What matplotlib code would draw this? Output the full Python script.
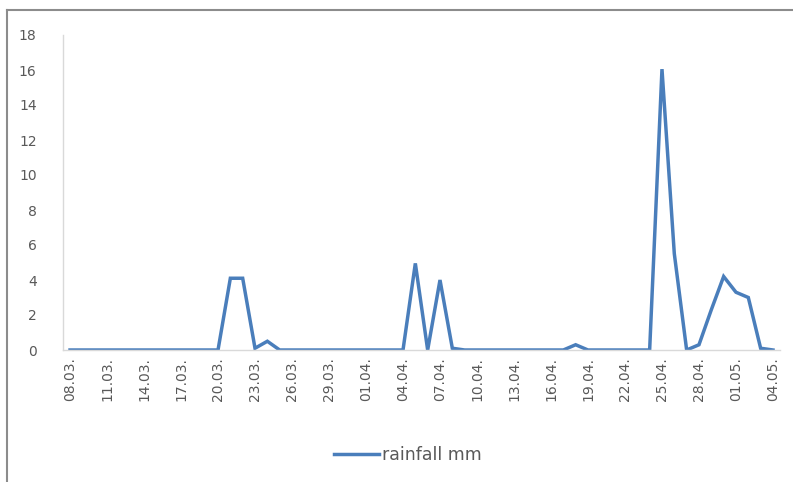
import matplotlib
matplotlib.use("Agg")
import matplotlib.pyplot as plt
from matplotlib.lines import Line2D
import datetime as dt

start = dt.date(2000, 3, 8)
n_days = 58
dates = [start + dt.timedelta(days=i) for i in range(n_days)]
date_labels = [d.strftime("%d.%m.") for d in dates]

rainfall = [0, 0, 0, 0, 0, 0, 0, 0, 0, 0, 0, 0, 0,      # 08.03-20.03
            4.1, 4.1, 0.1, 0.5, 0, 0, 0, 0, 0, 0, 0, 0, 0, 0,  # 21.03-03.04
            0, 4.95, 0, 4.0, 0.1, 0, 0, 0, 0, 0, 0, 0, 0, 0,    # 04.04-17.04
            0.3, 0, 0, 0, 0, 0, 0, 16.05, 5.5, 0, 0.3, 2.3,     # 18.04-29.04
            4.2, 3.3, 3.0, 0.1, 0]                               # 30.04-04.05

series_name = "rainfall mm"
yticks = [0, 2, 4, 6, 8, 10, 12, 14, 16, 18]

plt.rcParams['font.family'] = ['DejaVu Sans']
text_col = "#595959"
line_col = "#4A7EBB"

fig = plt.figure(figsize=(7.93, 4.82), dpi=100)
W, H = 793, 482
ax = fig.add_axes([63 / W, 1 - 350 / H, (780 - 63) / W, (350 - 35) / H])

x = list(range(n_days))
ax.plot(x, rainfall, color=line_col, lw=2.5, solid_joinstyle='miter', label=series_name)

ax.set_xlim(-0.57, 57.57)
ax.set_ylim(0, 18)
ax.set_yticks(yticks)
ax.set_yticklabels([str(v) for v in yticks])
ax.set_xticks(x[::3])
ax.set_xticklabels(date_labels[::3], rotation=90)

for s in ['top', 'right']:
    ax.spines[s].set_visible(False)
for s in ['left', 'bottom']:
    ax.spines[s].set_color("#D9D9D9")
    ax.spines[s].set_linewidth(1.0)
ax.tick_params(axis='both', length=0, colors=text_col, labelsize=10)
ax.tick_params(axis='y', pad=19)
ax.tick_params(axis='x', pad=5)

leg = fig.legend(handles=[Line2D([0], [0], color=line_col, lw=2.5)], labels=[series_name],
                 loc='center', bbox_to_anchor=(408 / W, 1 - 455 / H), frameon=False,
                 fontsize=12.5, handlelength=2.6, handletextpad=0.15, labelcolor=text_col)

# outer border (partially visible)
fig.add_artist(Line2D([7 / W, 7 / W], [0, 1 - 10 / H], color="#8C8C8C", lw=1.5, transform=fig.transFigure))
fig.add_artist(Line2D([7 / W, 1], [1 - 10 / H, 1 - 10 / H], color="#8C8C8C", lw=1.5, transform=fig.transFigure))

fig.savefig("out.png", dpi=100)
